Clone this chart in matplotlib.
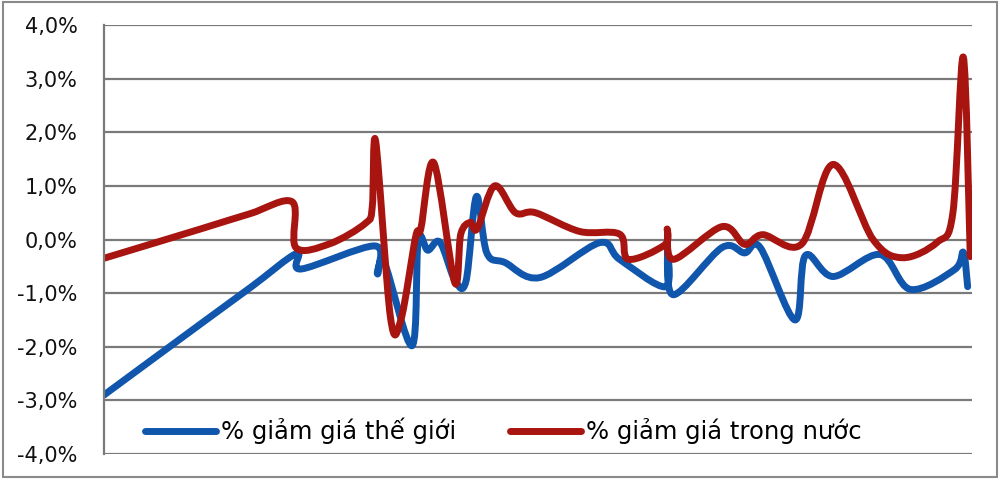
#!/usr/bin/env python3
"""
So sánh % giảm giá thế giới và trong nước (đường cong kiểu Excel)
"""

import matplotlib
matplotlib.use('Agg')
import matplotlib.pyplot as plt
from matplotlib.path import Path
from matplotlib.patches import PathPatch, Rectangle
from matplotlib.lines import Line2D
from matplotlib.ticker import FuncFormatter, MultipleLocator
import numpy as np

plt.rcParams['font.family'] = ['DejaVu Sans']

# dữ liệu (trục hoành: thứ tự thời gian, 0-100)
x_the_gioi = [0.0, 11.0, 17.0, 22.2, 22.7, 31.2, 31.5, 32.3, 35.5, 36.2, 37.3, 38.7,
              40.4, 41.7, 42.9, 44.1, 46.2, 50.2, 57.1, 59.4, 64.7, 64.9, 65.6, 71.2,
              73.8, 75.6, 79.6, 80.8, 84.0, 89.4, 92.9, 98.0, 99.0, 99.5]
y_the_gioi = [-2.90, -1.59, -0.88, -0.26, -0.55, -0.12, -0.64, -0.43, -1.98, -0.02, -0.20, -0.05,
              -0.75, -0.78, 0.80, -0.25, -0.43, -0.71, -0.06, -0.37, -0.88, -0.13, -1.03, -0.15,
              -0.25, -0.15, -1.50, -0.30, -0.69, -0.28, -0.93, -0.56, -0.24, -0.88]

x_trong_nuoc = [0.0, 11.0, 16.8, 21.7, 22.1, 26.0, 30.1, 30.9, 31.3, 33.0, 34.2, 35.9,
                36.5, 38.0, 40.4, 41.1, 42.2, 43.0, 45.0, 47.4, 49.7, 54.8, 59.4, 60.4,
                64.6, 64.9, 65.6, 71.2, 73.8, 75.9, 80.4, 84.0, 88.6, 92.0, 96.0, 97.8,
                99.0, 99.8]
y_trong_nuoc = [-0.35, 0.19, 0.48, 0.70, -0.15, -0.08, 0.30, 0.60, 1.83, -1.45, -1.50, 0.05,
                0.20, 1.43, -0.80, 0.10, 0.32, 0.20, 1.00, 0.50, 0.50, 0.15, 0.10, -0.37,
                -0.10, 0.19, -0.37, 0.24, -0.09, 0.09, -0.08, 1.40, 0.00, -0.34, -0.05, 0.50,
                3.40, -0.32]

nhan = ['% giảm giá thế giới', '% giảm giá trong nước']
mau = ['#1056AC', '#A8140F']


def smooth_path(xs, ys):
    """Đường cong Bezier giống kiểu 'smoothed line' của Excel"""
    pts = np.column_stack([xs, ys]).astype(float)
    n = len(pts)
    verts = [pts[0]]
    codes = [Path.MOVETO]
    for i in range(n - 1):
        p0 = pts[max(i - 1, 0)]
        p1 = pts[i]
        p2 = pts[i + 1]
        p3 = pts[min(i + 2, n - 1)]
        c1 = p1 + (p2 - p0) / 6.0
        c2 = p2 - (p3 - p1) / 6.0
        verts += [c1, c2, p2]
        codes += [Path.CURVE4] * 3
    return Path(verts, codes)


fig = plt.figure(figsize=(10, 4.79), dpi=100)
ax = fig.add_axes([0.104, 0.0522, 0.868, 0.8956])

ax.set_xlim(0, 100)
ax.set_ylim(-4, 4)
ax.yaxis.set_major_locator(MultipleLocator(1))
ax.yaxis.set_major_formatter(FuncFormatter(lambda v, p: f"{v:.1f}%".replace('.', ',')))
ax.set_xticks([])
ax.tick_params(axis='y', length=0, pad=19, labelsize=15, colors='#111111')

ax.grid(axis='y', color='#7a7a7a', linewidth=1.6)
ax.set_axisbelow(True)
for s in ['top', 'right', 'bottom']:
    ax.spines[s].set_visible(False)
ax.spines['left'].set_color('#7a7a7a')
ax.spines['left'].set_linewidth(1.6)

for xs, ys, c in [(x_the_gioi, y_the_gioi, mau[0]), (x_trong_nuoc, y_trong_nuoc, mau[1])]:
    patch = PathPatch(smooth_path(xs, ys), fill=False, edgecolor=c, linewidth=5,
                      capstyle='round', joinstyle='round')
    ax.add_patch(patch)

handles = [Line2D([0], [0], color=c, linewidth=5, solid_capstyle='round') for c in mau]
ax.legend(handles, nhan, loc='center', bbox_to_anchor=(0.46, 0.054), ncol=2,
          frameon=False, fontsize=17.5, handlelength=2.95, handletextpad=0.2,
          columnspacing=2.2)

fig.patches.append(Rectangle((0.003, 0.004), 0.994, 0.992, transform=fig.transFigure,
                             fill=False, edgecolor='#8a8a8a', linewidth=1.5))

plt.savefig('out.png', dpi=100)
